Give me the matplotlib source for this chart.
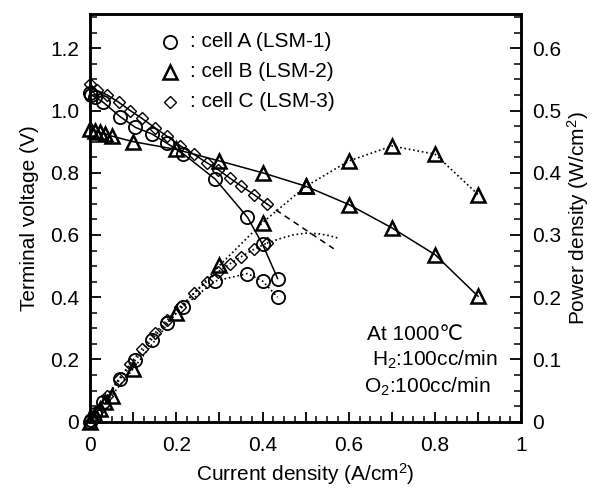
import matplotlib
matplotlib.use("Agg")
import matplotlib.pyplot as plt
from matplotlib.ticker import MultipleLocator

plt.rcParams['font.family'] = ['Liberation Sans', 'DejaVu Sans']
plt.rcParams['mathtext.fontset'] = 'custom'
plt.rcParams['mathtext.rm'] = 'Liberation Sans'
plt.rcParams['mathtext.it'] = 'Liberation Sans'

# cell A (LSM-1)
a_i = [0, 0.003, 0.012, 0.03, 0.07, 0.105, 0.143, 0.178, 0.215, 0.29, 0.365, 0.40, 0.435]
a_v = [1.055, 1.05, 1.043, 1.027, 0.98, 0.946, 0.925, 0.895, 0.862, 0.78, 0.657, 0.57, 0.46]
a_p = [0, 0.003, 0.0125, 0.031, 0.069, 0.099, 0.132, 0.159, 0.185, 0.226, 0.238, 0.226, 0.2]

# cell B (LSM-2)
b_i = [0, 0.012, 0.023, 0.035, 0.05, 0.1, 0.2, 0.3, 0.4, 0.5, 0.6, 0.7, 0.8, 0.9]
b_v = [0.94, 0.935, 0.93, 0.925, 0.918, 0.90, 0.875, 0.838, 0.80, 0.757, 0.698, 0.623, 0.537, 0.403]
b_p = [0, 0.011, 0.021, 0.032, 0.042, 0.085, 0.175, 0.251, 0.32, 0.378, 0.419, 0.443, 0.43, 0.365]

# cell C (LSM-3)
c_i = [0, 0.015, 0.04, 0.066, 0.093, 0.12, 0.15, 0.178, 0.209, 0.24, 0.27, 0.297, 0.325, 0.35, 0.38, 0.41]
c_v = [1.085, 1.065, 1.05, 1.027, 1.0, 0.975, 0.945, 0.918, 0.887, 0.86, 0.833, 0.81, 0.782, 0.758, 0.73, 0.70]
c_p = [0, 0.016, 0.042, 0.068, 0.093, 0.117, 0.142, 0.163, 0.185, 0.206, 0.225, 0.241, 0.254, 0.265, 0.277, 0.287]
# extrapolated curves for cell C
c_ext_i = [0.41, 0.565]
c_ext_v = [0.70, 0.556]
c_pext_i = [0.41, 0.44, 0.47, 0.5, 0.53, 0.555, 0.575]
c_pext_p = [0.287, 0.294, 0.3, 0.303, 0.302, 0.299, 0.295]

x_labels = ['0', '', '0.2', '', '0.4', '', '0.6', '', '0.8', '', '1']
v_labels = ['0', '0.2', '0.4', '0.6', '0.8', '1.0', '1.2']
p_labels = ['0', '0.1', '0.2', '0.3', '0.4', '0.5', '0.6']

fs = 15

fig = plt.figure(figsize=(5.97, 4.88), dpi=100)
ax = fig.add_axes([0.151, 0.136, 0.722, 0.835])
ax2 = ax.twinx()

lw = 1.1
mew = 1.3
ms_o, ms_t, ms_d = 9.5, 10, 6.5

# voltage curves
ax.plot(a_i, a_v, '-', color='black', lw=lw, marker='o', ms=ms_o, mfc='none', mec='black', mew=mew, clip_on=False)
ax.plot(b_i, b_v, '-', color='black', lw=lw, marker='^', ms=ms_t, mfc='none', mec='black', mew=1.8, clip_on=False)
ax.plot(c_i, c_v, '-', color='black', lw=lw, marker='D', ms=ms_d, mfc='none', mec='black', mew=1.0, clip_on=False)
ax.plot(c_ext_i, c_ext_v, '--', color='black', lw=lw, dashes=(4, 3))

# power curves
ax2.plot(a_i, a_p, ':', color='black', lw=1.2, marker='o', ms=ms_o, mfc='none', mec='black', mew=mew, clip_on=False)
ax2.plot(b_i, b_p, ':', color='black', lw=1.2, marker='^', ms=ms_t, mfc='none', mec='black', mew=1.8, clip_on=False)
ax2.plot(c_i, c_p, ':', color='black', lw=1.2, marker='D', ms=ms_d, mfc='none', mec='black', mew=1.0, clip_on=False)
ax2.plot(c_pext_i, c_pext_p, ':', color='black', lw=1.2)

ax.set_xlim(0, 1)
ax.set_ylim(0, 1.31)
ax2.set_ylim(0, 0.655)

ax.set_xticks([i / 10 for i in range(11)])
ax.set_xticklabels(x_labels)
ax.set_yticks([i / 5 for i in range(7)])
ax.set_yticklabels(v_labels)
ax2.set_yticks([i / 10 for i in range(7)])
ax2.set_yticklabels(p_labels)
ax.xaxis.set_minor_locator(MultipleLocator(0.025))
ax.yaxis.set_minor_locator(MultipleLocator(0.05))
ax2.yaxis.set_minor_locator(MultipleLocator(0.025))

ax.tick_params(axis='x', which='major', direction='in', length=7, width=1.3, labelsize=fs, pad=10, top=False)
ax.tick_params(axis='x', which='minor', direction='in', length=4, width=1.1, top=False)
ax.tick_params(axis='y', which='major', direction='in', length=8, width=1.3, labelsize=fs, pad=8, right=False)
ax.tick_params(axis='y', which='minor', direction='in', length=5, width=1.1, right=False)
ax2.tick_params(axis='y', which='major', direction='in', length=8, width=1.3, labelsize=fs, pad=8)
ax2.tick_params(axis='y', which='minor', direction='in', length=5, width=1.1)

for a in (ax, ax2):
    for s in a.spines.values():
        s.set_linewidth(1.8)

ax.set_xlabel('Current density (A/cm$^2$)', fontsize=fs, labelpad=5)
ax.set_ylabel('Terminal voltage (V)', fontsize=fs, labelpad=8)
ax2.set_ylabel('Power density (W/cm$^2$)', fontsize=fs, labelpad=3)

# legend drawn as markers + text
leg_y = [1.222, 1.125, 1.028]
leg_markers = ['o', '^', 'D']
leg_sizes = [ms_o, ms_t, ms_d]
leg_mew = [mew, 1.8, 1.0]
leg_text = [': cell A (LSM-1)', ': cell B (LSM-2)', ': cell C (LSM-3)']
for yy, mk, sz, ew, tx in zip(leg_y, leg_markers, leg_sizes, leg_mew, leg_text):
    ax.plot([0.186], [yy], marker=mk, ms=sz, mfc='none', mec='black', mew=ew, ls='none')
    ax.text(0.232, yy, tx, fontsize=fs, va='center', ha='left')

ax.text(0.643, 0.28, 'At 1000\u2103', fontsize=fs, ha='left', va='center')
ax.text(0.655, 0.198, 'H$_2$:100cc/min', fontsize=fs, ha='left', va='center')
ax.text(0.636, 0.113, 'O$_2$:100cc/min', fontsize=fs, ha='left', va='center')

fig.savefig('out.png', dpi=100)
